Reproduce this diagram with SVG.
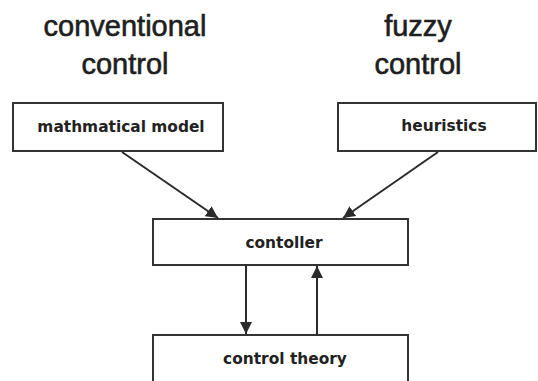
<svg xmlns="http://www.w3.org/2000/svg" width="538" height="381" viewBox="0 0 538 381">
  <defs>
    <marker id="arrowhead" viewBox="0 0 12 12" refX="12" refY="6" markerWidth="12" markerHeight="12" markerUnits="userSpaceOnUse" orient="auto">
      <path d="M0,0 L12,6 L0,12 z" fill="#2a2a2a"/>
    </marker>
    <style>
      .title { font-family: "Liberation Sans", Arial, sans-serif; font-size: 29px; fill: #1e1e1e; stroke: #1e1e1e; stroke-width: 0.6; text-anchor: middle; }
      .box { fill: #ffffff; stroke: #333333; stroke-width: 2; }
      .label { font-family: "DejaVu Sans", Verdana, sans-serif; font-size: 15.4px; font-weight: bold; fill: #222222; text-anchor: middle; }
      .edge { stroke: #2a2a2a; stroke-width: 2; fill: none; marker-end: url(#arrowhead); }
    </style>
  </defs>

  <rect width="538" height="381" fill="#ffffff"/>

  <!-- column headings -->
  <g id="heading-conventional">
    <text class="title" x="125" y="36">conventional</text>
    <text class="title" x="125" y="74">control</text>
  </g>
  <g id="heading-fuzzy">
    <text class="title" x="418" y="36">fuzzy</text>
    <text class="title" x="418" y="74">control</text>
  </g>

  <!-- nodes -->
  <g id="node-model">
    <rect class="box" x="13" y="103" width="210" height="48"/>
    <text class="label" x="121" y="132">mathmatical model</text>
  </g>
  <g id="node-heuristics">
    <rect class="box" x="338" y="103" width="198" height="48"/>
    <text class="label" x="444" y="131">heuristics</text>
  </g>
  <g id="node-controller">
    <rect class="box" x="153" y="219" width="255" height="46"/>
    <text class="label" x="284" y="248">contoller</text>
  </g>
  <g id="node-theory">
    <rect class="box" x="153" y="335" width="255" height="60"/>
    <text class="label" x="285" y="364">control theory</text>
  </g>

  <!-- connectors -->
  <g id="connectors">
    <line class="edge" x1="122" y1="152" x2="218" y2="218"/>
    <line class="edge" x1="438" y1="152" x2="343" y2="218"/>
    <line class="edge" x1="246" y1="265" x2="246" y2="334"/>
    <line class="edge" x1="317" y1="335" x2="317" y2="266"/>
  </g>
</svg>
